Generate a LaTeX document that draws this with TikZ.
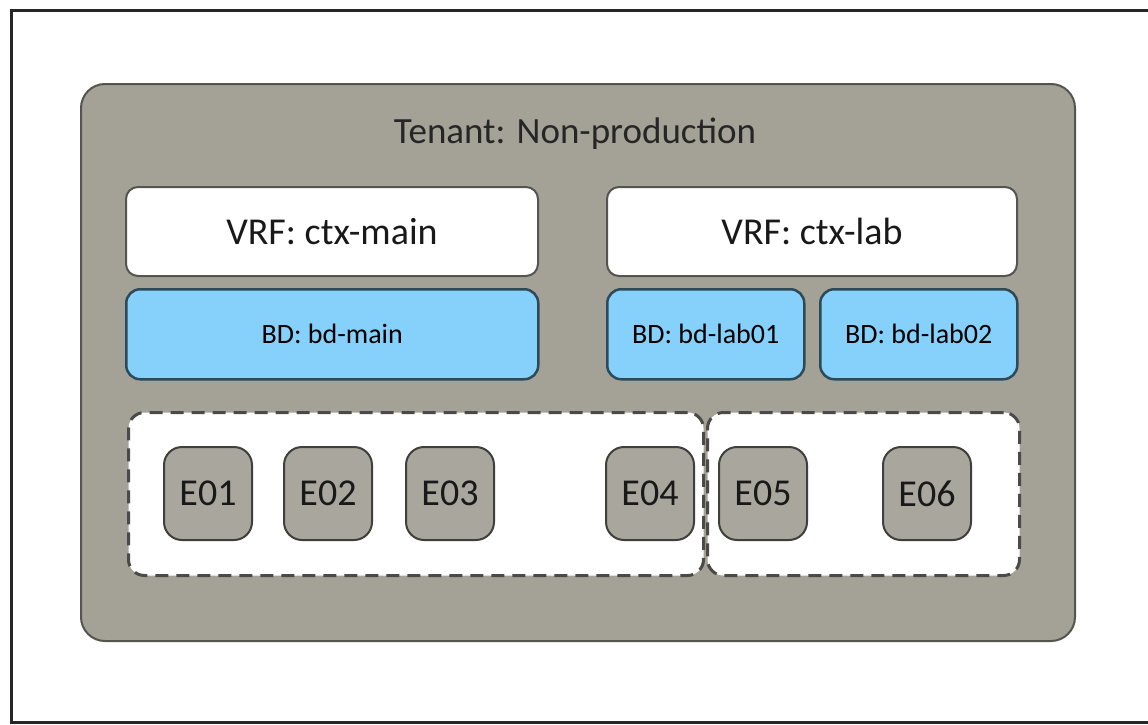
\documentclass[tikz,border=0pt]{standalone}
\usepackage{fontspec}
\setmainfont{Carlito}
\definecolor{tenantgray}{HTML}{A4A296}
\definecolor{tenantedge}{HTML}{55554F}
\definecolor{bdblue}{HTML}{86D1FB}
\definecolor{bdedge}{HTML}{2E4A58}
\definecolor{epgray}{HTML}{A9A79D}
\definecolor{epedge}{HTML}{3F3F3C}
\definecolor{dashedge}{HTML}{4A4A48}
\tikzset{
  box/.style={rectangle, rounded corners=#1, inner sep=0pt, anchor=north west},
  box/.default=12pt,
  tenantbox/.style={box=24pt, fill=tenantgray, draw=tenantedge, line width=2pt},
  vrfbox/.style={box=12pt, fill=white, draw=tenantedge, line width=2pt,
                 font=\fontsize{38}{44}\selectfont, text=black!90},
  bdbox/.style={box=14pt, fill=bdblue, draw=bdedge, line width=2.5pt,
                font=\fontsize{28}{32}\selectfont, text=black},
  epgbox/.style={box=16pt, fill=white, draw=dashedge, line width=3pt,
                 dash pattern=on 13pt off 8pt},
  epbox/.style={box=18pt, fill=epgray, draw=epedge, line width=2pt,
                minimum width=88pt, minimum height=93pt,
                font=\fontsize{38}{42}\selectfont, text=black!90}
}
\begin{document}
\begin{tikzpicture}[x=1pt, y=-1pt]
  \useasboundingbox (0,0) rectangle (1148,725);
  \fill[white] (0,0) rectangle (1148,725);
  % outer frame (open on the right)
  \draw[line width=3pt, black!85] (1150,11) -- (11,11) -- (11,722) -- (1150,722);

  % tenant
  \node[tenantbox, minimum width=994pt, minimum height=557pt] (tenant) at (80,83) {};
  \node[font=\fontsize{37}{42}\selectfont, text=black!85] (title) at (575,134) {Tenant: Non-production};

  % VRFs
  \node[vrfbox, minimum width=412pt, minimum height=89pt] (vrfmain) at (125,186) {VRF: ctx-main};
  \node[vrfbox, minimum width=410pt, minimum height=89pt] (vrflab) at (606,186) {VRF: ctx-lab};

  % bridge domains
  \node[bdbox, minimum width=412pt, minimum height=90pt] (bdmain) at (125,288) {BD: bd-main};
  \node[bdbox, minimum width=197pt, minimum height=90pt] (bdlab1) at (606,288) {BD: bd-lab01};
  \node[bdbox, minimum width=197pt, minimum height=90pt] (bdlab2) at (819,288) {BD: bd-lab02};

  % endpoint groups
  \node[epgbox, minimum width=575pt, minimum height=163pt] (epgmain) at (127,411) {};
  \node[epgbox, minimum width=312pt, minimum height=163pt] (epglab) at (706,411) {};

  % endpoints
  \node[epbox] (e1) at (163,446) {E01};
  \node[epbox] (e2) at (283,446) {E02};
  \node[epbox] (e3) at (405,446) {E03};
  \node[epbox] (e4) at (605,446) {E04};
  \node[epbox] (e5) at (718,446) {E05};
  \node[epbox] (e6) at (882,446) {E06};
\end{tikzpicture}
\end{document}
